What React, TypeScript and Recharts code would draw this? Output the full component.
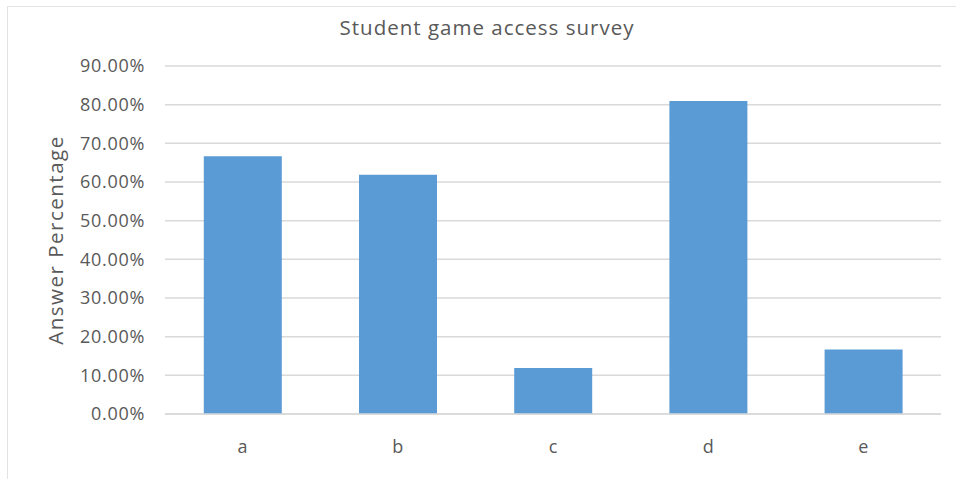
import React from 'react';
import { BarChart, Bar, XAxis, YAxis, CartesianGrid } from 'recharts';

const categories = ['a', 'b', 'c', 'd', 'e'];
const values = [0.6667, 0.619, 0.119, 0.8095, 0.1667];
const yTicks = [0, 0.1, 0.2, 0.3, 0.4, 0.5, 0.6, 0.7, 0.8, 0.9];
const title = 'Student game access survey';
const yLabel = 'Answer Percentage';

const data = categories.map((c, i) => ({ name: c, value: values[i] }));

const FONT = '"Open Sans", sans-serif';

export default function App() {
  return (
    <div style={{ position: 'absolute', left: 0, top: 0, width: 956, height: 479, background: '#fff', fontFamily: FONT }}>
      <div style={{ position: 'absolute', left: 7, top: 6, width: 960, height: 480, border: '1px solid #e3e3e3', boxSizing: 'border-box' }} />
      <div style={{ position: 'absolute', left: 0, top: 12, width: 974, textAlign: 'center', fontSize: 20.5, letterSpacing: 1, color: '#595959', lineHeight: '30px' }}>{title}</div>
      <div style={{ position: 'absolute', left: 55, top: 240, transform: 'translate(-50%, -50%) rotate(-90deg)', fontSize: 20.5, letterSpacing: 1.5, color: '#595959', whiteSpace: 'nowrap', lineHeight: '22px' }}>{yLabel}</div>
      <BarChart width={956} height={479} data={data} margin={{ top: 66, right: 15, bottom: 35, left: 65 }} barCategoryGap="25%">
        <CartesianGrid vertical={false} stroke="#d9d9d9" strokeWidth={1.5} />
        <XAxis dataKey="name" axisLine={{ stroke: '#d9d9d9', strokeWidth: 1.5 }} tickLine={false} height={30} tick={{ fill: '#595959', fontSize: 18, fontFamily: FONT }} tickMargin={20} />
        <YAxis domain={[0, 0.9]} ticks={yTicks} width={100} axisLine={false} tickLine={false} tickMargin={14} tickFormatter={(v: number) => (v * 100).toFixed(2) + '%'} tick={{ fill: '#595959', fontSize: 18, fontFamily: FONT, letterSpacing: 0.7 }} />
        <Bar dataKey="value" fill="#5b9bd5" isAnimationActive={false} />
      </BarChart>
    </div>
  );
}
